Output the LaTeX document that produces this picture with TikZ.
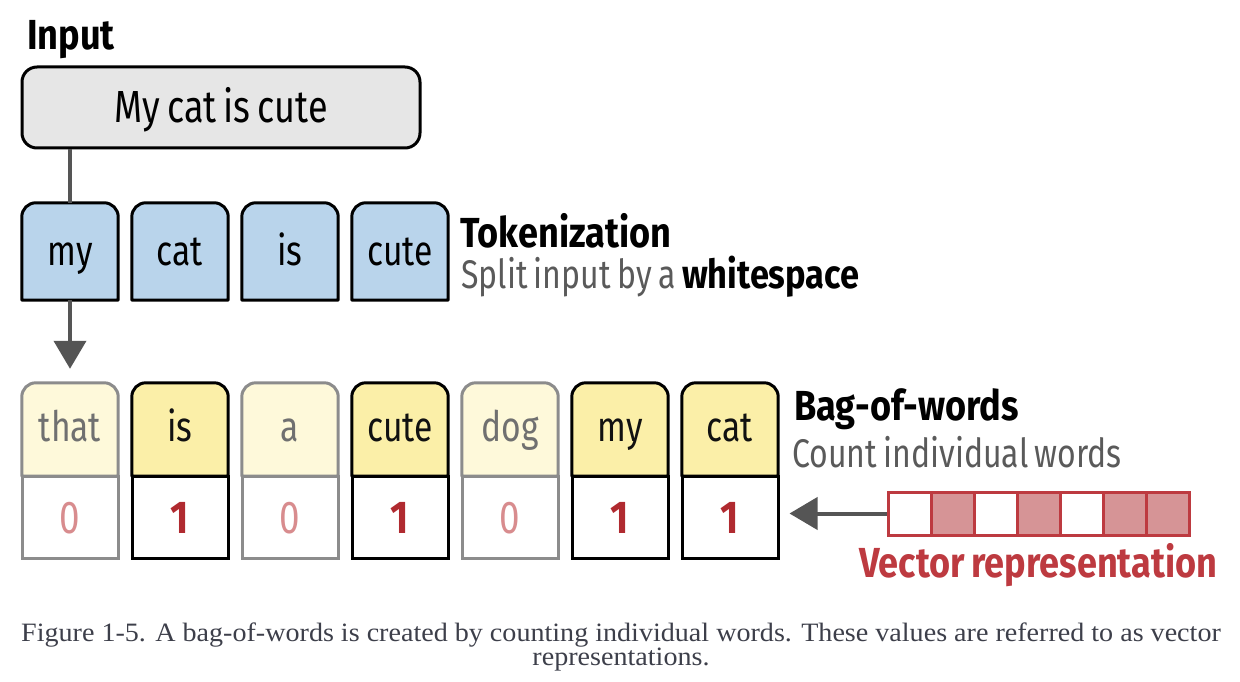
\documentclass[tikz,border=0pt]{standalone}
\usepackage{fontspec}
\setmainfont{Fira Sans}[UprightFeatures={FakeStretch=0.8,WordSpace=0.75},BoldFeatures={FakeStretch=0.86,WordSpace=0.75}]
\newfontfamily\capfont{Liberation Serif}[FakeStretch=1.06]
\usetikzlibrary{arrows.meta,backgrounds}
\definecolor{inputgray}{HTML}{E6E6E6}
\definecolor{tokblue}{HTML}{B9D4EB}
\definecolor{fillon}{HTML}{FBEFA8}
\definecolor{filloff}{HTML}{FEF9DA}
\definecolor{edgeon}{HTML}{000000}
\definecolor{edgeoff}{HTML}{8C8C8C}
\definecolor{wordon}{HTML}{111111}
\definecolor{wordoff}{HTML}{707070}
\definecolor{digiton}{HTML}{B02A30}
\definecolor{digitoff}{HTML}{D88C8E}
\definecolor{vecpink}{HTML}{D69496}
\definecolor{vecred}{HTML}{BD3A40}
\definecolor{textgray}{HTML}{5A5A5A}
\definecolor{linegray}{HTML}{555555}
\definecolor{capgray}{HTML}{3D3F4A}
\newcommand\tabshape[3]{%
  \filldraw[fill=#2,draw=#3,line width=3pt,line join=round]
    (#1.south west) [rounded corners=14pt] -- (#1.north west) -- (#1.north east)
    [sharp corners] -- (#1.south east) -- cycle;}
\begin{document}
\begin{tikzpicture}[
    x=1pt, y=-1pt,
    font=\fontsize{42}{50}\selectfont,
    inbox/.style={draw, fill=inputgray, rounded corners=15pt, line width=3pt,
      minimum width=398pt, minimum height=81pt, inner sep=0pt,
      text height=31pt, text depth=0pt, font=\fontsize{45}{50}\selectfont},
    tok/.style={minimum width=96pt, minimum height=97pt, inner sep=0pt,
      text height=27pt, text depth=0pt},
    word/.style={minimum width=96pt, minimum height=93pt, inner sep=0pt,
      text height=23pt, text depth=0pt},
    cnt/.style={draw, fill=white, line width=3pt, minimum width=96pt,
      minimum height=82pt, inner sep=0pt, text height=32pt, text depth=0pt,
      font=\fontsize{46}{50}\selectfont},
    cnton/.style={font=\fontsize{46}{50}\selectfont\bfseries},
    cntoff/.style={},
    cell/.style={draw=vecred, line width=3pt, minimum size=43pt, inner sep=0pt},
    label/.style={anchor=base west, inner sep=0pt},
    sublabel/.style={label, text=textgray, font=\fontsize{40}{48}\selectfont},
    caption/.style={anchor=base, inner sep=0pt, text=capgray, align=center,
      font=\capfont\fontsize{26.5}{24}\selectfont},
    link/.style={draw=linegray, line width=4pt},
    tip/.style={-{Triangle[width=32pt,length=28pt]}}
  ]
  \useasboundingbox (0,0) rectangle (1240,682);

  \node[label] (inlabel) at (27,50) {\textbf{Input}};
  \node[inbox] (input) at (221,107.5) {My cat is cute};

  \foreach \w [count=\i] in {my,cat,is,cute} {
    \node[tok] (t\i) at ({70+110*(\i-1)},251.5) {\w};
    \begin{scope}[on background layer]
      \tabshape{t\i}{tokblue}{black}
    \end{scope}
  }
  \node[label] (toklabel) at (460,247) {\textbf{Tokenization}};
  \node[sublabel] (toksub) at (461,288)
    {Split input by a \textcolor{black}{\textbf{whitespace}}};

  \foreach \w/\n/\on [count=\i] in {that/0/off,is/1/on,a/0/off,cute/1/on,dog/0/off,my/1/on,cat/1/on} {
    \node[word, text=word\on] (w\i) at ({70+110*(\i-1)},429.5) {\w};
    \begin{scope}[on background layer]
      \tabshape{w\i}{fill\on}{edge\on}
    \end{scope}
    \node[cnt, cnt\on, draw=edge\on, text=digit\on] (c\i) at ({70+110*(\i-1)},517) {\n};
  }
  \node[label] (bowlabel) at (794,420) {\textbf{Bag-of-words}};
  \node[sublabel] (bowsub) at (792,467) {Count individual words};

  \foreach \f [count=\i] in {white,vecpink,white,vecpink,white,vecpink,vecpink}
    \node[cell, fill=\f] (v\i) at ({909.5+43*(\i-1)},513.5) {};
  \node[label, text=vecred] (veclabel) at (859,577) {\textbf{Vector representation}};

  \draw[link] (t1.north |- input.south) -- (t1.north);
  \draw[link, tip, shorten >=14pt] (t1.south) -- (w1.north);
  \draw[link, tip, shorten >=10pt] (v1.west) -- (v1.west -| c7.east);

  \node[caption] (caption) at (621,665)
    {Figure 1-5. A bag-of-words is created by counting individual words. These values are referred to as vector\\representations.};
\end{tikzpicture}
\end{document}
